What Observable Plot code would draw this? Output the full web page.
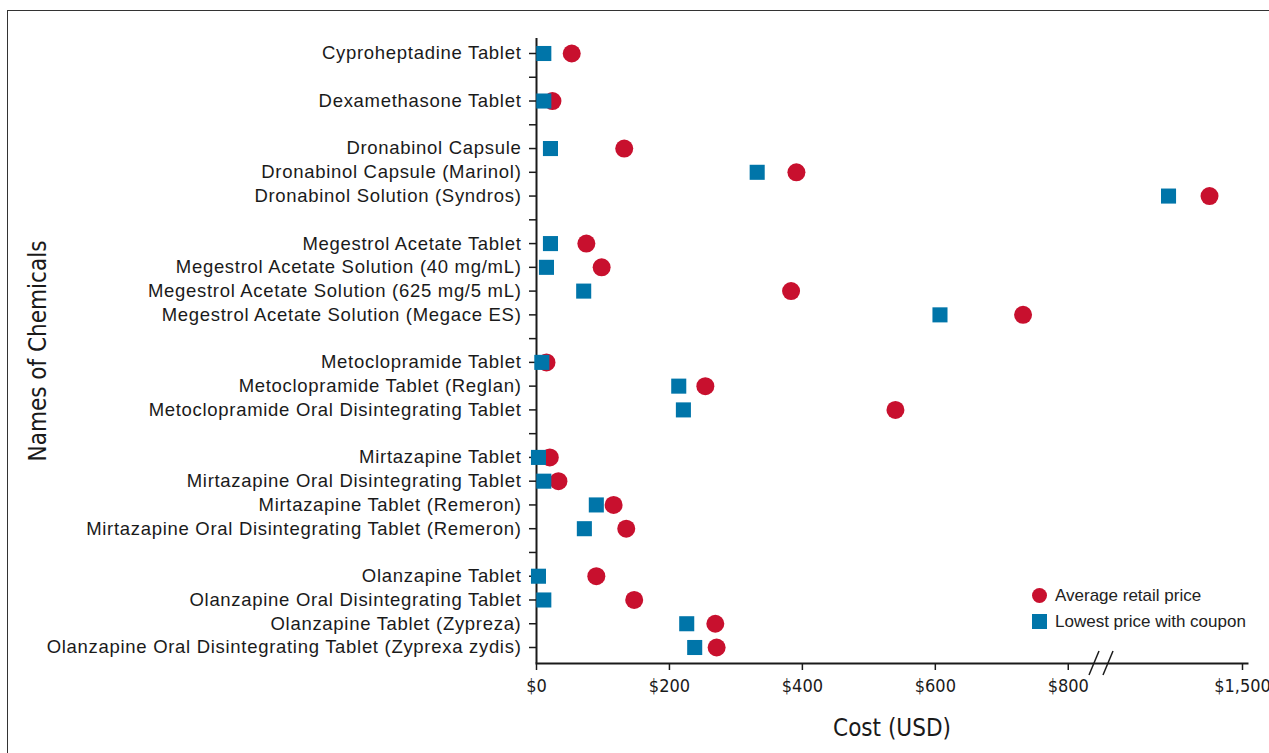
<!DOCTYPE html>
<html>
<head>
<meta charset="utf-8">
<script src="https://cdn.jsdelivr.net/npm/d3@7"></script>
<script src="https://cdn.jsdelivr.net/npm/@observablehq/plot@0.6"></script>
<style>
  html, body { margin: 0; padding: 0; background: #fff; overflow: hidden; }
  #wrap { position: relative; width: 1269px; height: 753px; }
  #border { position: absolute; left: 7px; top: 10px; width: 1300px; height: 800px; border: 1.5px solid #333; box-sizing: border-box; pointer-events: none; }
  #chart svg { display: block; }
  #legend { position: absolute; left: 1028px; top: 582.5px; font-family: "Liberation Sans", Arial, sans-serif; font-size: 17px; color: #222; white-space: nowrap; width: 240px; }
  .lg { display: flex; align-items: center; height: 26px; }
  .sw { width: 22px; flex: 0 0 22px; display: flex; justify-content: center; margin-right: 5px; }
  .circ { width: 15px; height: 15px; border-radius: 50%; background: #c8102e; }
  .sq { width: 15px; height: 15px; background: #0075a9; }
  .yax text { letter-spacing: 0.7px; }
</style>
</head>
<body>
<div id="wrap">
  <div id="chart"></div>
  <div id="border"></div>
  <div id="legend">
    <div class="lg"><div class="sw"><div class="circ"></div></div><span>Average retail price</span></div>
    <div class="lg"><div class="sw"><div class="sq"></div></div><span>Lowest price with coupon</span></div>
  </div>
</div>
<script>
// Groups of chemicals (a blank row separates groups)
const groups = [
  ["Cyproheptadine Tablet"],
  ["Dexamethasone Tablet"],
  ["Dronabinol Capsule", "Dronabinol Capsule (Marinol)", "Dronabinol Solution (Syndros)"],
  ["Megestrol Acetate Tablet", "Megestrol Acetate Solution (40 mg/mL)", "Megestrol Acetate Solution (625 mg/5 mL)", "Megestrol Acetate Solution (Megace ES)"],
  ["Metoclopramide Tablet", "Metoclopramide Tablet (Reglan)", "Metoclopramide Oral Disintegrating Tablet"],
  ["Mirtazapine Tablet", "Mirtazapine Oral Disintegrating Tablet", "Mirtazapine Tablet (Remeron)", "Mirtazapine Oral Disintegrating Tablet (Remeron)"],
  ["Olanzapine Tablet", "Olanzapine Oral Disintegrating Tablet", "Olanzapine Tablet (Zypreza)", "Olanzapine Oral Disintegrating Tablet (Zyprexa zydis)"]
];
// Average retail price (USD), in the same order as the chemicals
const retailPrice = [53, 24, 132, 391, 1348, 75, 98, 383, 732, 15, 254, 540, 20, 33, 116, 135, 90, 147, 269, 271];
// Lowest price with coupon (USD)
const couponPrice = [11, 11, 21, 332, 1159, 21, 15, 71, 607, 8, 214, 221, 3, 11, 90, 72, 3, 11, 226, 238];
// Axis ticks (with a break after $800)
const xTicks = [0, 200, 400, 600, 800, 1500];
const xBreak = 850;

const names = groups.flat();
const rows = [];
groups.forEach((g, i) => {
  g.forEach(n => rows.push(n));
  if (i < groups.length - 1) rows.push("gap" + i);
});
const data = names.map((n, i) => ({name: n, retail: retailPrice[i], coupon: couponPrice[i]}));

const W = 1269, H = 753;
const condensed = '"Liberation Sans Narrow", "DejaVu Sans Condensed", "Arial Narrow", sans-serif';

const chart = Plot.plot({
  width: W,
  height: H,
  marginLeft: 536,
  marginRight: 22,
  marginTop: 38,
  marginBottom: 90,
  style: {fontFamily: '"Liberation Sans", Arial, sans-serif', color: "#1a1a1a", background: "#fff"},
  x: {type: "linear", domain: [0, xBreak, 1500], range: [536, 1101, 1242]},
  y: {type: "point", domain: rows, range: [53, 647], padding: 0, round: false},
  marks: [
    Plot.axisY({
      ticks: rows,
      tickSize: 7,
      tickPadding: 8,
      fontSize: 18.5,
      strokeWidth: 1.5,
      className: "yax",
      tickFormat: d => d.startsWith("gap") ? "" : d,
      label: null
    }),
    Plot.axisX({
      ticks: xTicks,
      tickSize: 7,
      tickPadding: 9,
      fontSize: 18,
      fontFamily: condensed,
      strokeWidth: 1.5,
      tickFormat: d => "$" + d3.format(",")(d),
      label: null
    }),
    Plot.ruleX([0], {stroke: "#1a1a1a", strokeWidth: 2}),
    Plot.frame({anchor: "bottom", stroke: "#1a1a1a", strokeWidth: 2}),
    Plot.dot(data, {x: "retail", y: "name", r: 9, fill: "#c8102e", stroke: "none"}),
    Plot.dot(data, {x: "coupon", y: "name", symbol: "square", r: 8.5, fill: "#0075a9", stroke: "none"}),
    Plot.text(["Cost (USD)"], {frameAnchor: "bottom", dy: 72, fontSize: 24, fontFamily: condensed, fill: "#1a1a1a"}),
    Plot.text(["Names of Chemicals"], {frameAnchor: "left", textAnchor: "middle", dx: -498, rotate: -90, fontSize: 24, fontFamily: condensed, fill: "#1a1a1a"})
  ]
});
document.getElementById("chart").appendChild(chart);

// Axis break marks drawn with the chart's own x scale
const xs = chart.scale("x");
const bx = xs.apply(xBreak);
const svg = d3.select(chart);
const yAxis = H - 90;
[-7, 7].forEach(off => {
  svg.append("line")
    .attr("x1", bx + off - 5).attr("y1", yAxis + 12)
    .attr("x2", bx + off + 5).attr("y2", yAxis - 12)
    .attr("stroke", "#1a1a1a").attr("stroke-width", 1.5);
});
</script>
</body>
</html>
